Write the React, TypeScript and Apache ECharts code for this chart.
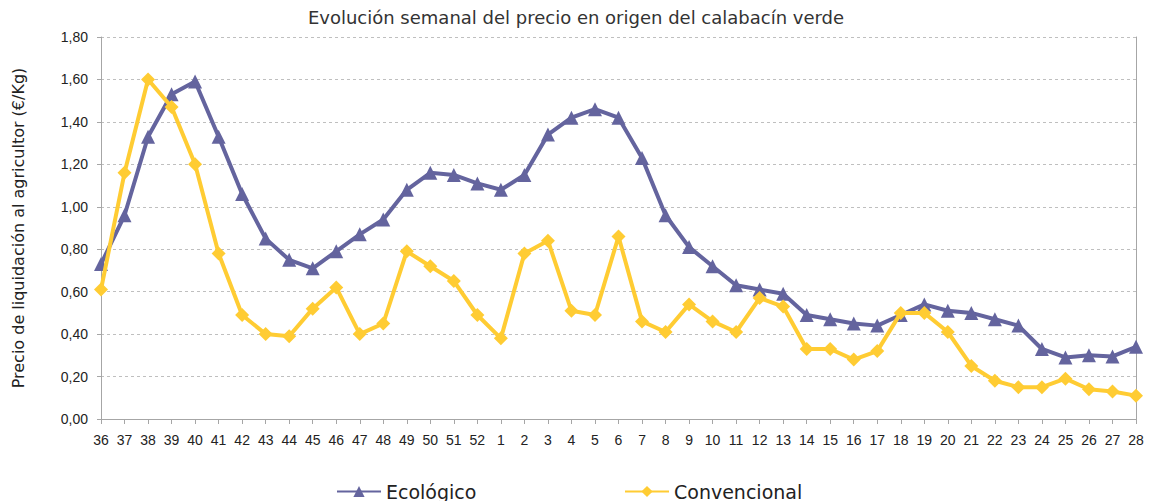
import React, { useEffect, useRef } from "react";
import * as echarts from "echarts";

const weeks: string[] = [
  "36", "37", "38", "39", "40", "41", "42", "43", "44", "45", "46", "47", "48", "49", "50", "51", "52",
  "1", "2", "3", "4", "5", "6", "7", "8", "9", "10", "11", "12", "13", "14", "15", "16", "17", "18",
  "19", "20", "21", "22", "23", "24", "25", "26", "27", "28",
];

const ecologico: number[] = [
  0.73, 0.96, 1.33, 1.53, 1.59, 1.33, 1.06, 0.85, 0.75, 0.71, 0.79, 0.87, 0.94, 1.08, 1.16, 1.15, 1.11,
  1.08, 1.15, 1.34, 1.42, 1.46, 1.42, 1.23, 0.96, 0.81, 0.72, 0.63, 0.61, 0.59, 0.49, 0.47, 0.45, 0.44, 0.49,
  0.54, 0.51, 0.50, 0.47, 0.44, 0.33, 0.29, 0.30, 0.295, 0.34,
];

const convencional: number[] = [
  0.61, 1.16, 1.60, 1.47, 1.20, 0.78, 0.49, 0.40, 0.39, 0.52, 0.62, 0.40, 0.45, 0.79, 0.72, 0.65, 0.49,
  0.38, 0.78, 0.84, 0.51, 0.49, 0.86, 0.46, 0.41, 0.54, 0.46, 0.41, 0.57, 0.53, 0.33, 0.33, 0.28, 0.32, 0.50,
  0.50, 0.41, 0.25, 0.18, 0.15, 0.15, 0.19, 0.14, 0.13, 0.11,
];

const PURPLE = "#64649E";
const GOLD = "#FFCC33";

export default function App() {
  const ref = useRef<HTMLDivElement>(null);
  useEffect(() => {
    if (!ref.current) return;
    const chart = echarts.init(ref.current, undefined, { renderer: "svg" });
    chart.setOption({
      animation: false,
      backgroundColor: "#ffffff",
      title: {
        text: "Evolución semanal del precio en origen del calabacín verde",
        left: "center",
        top: 3,
        textStyle: { fontFamily: "DejaVu Sans", fontSize: 18, fontWeight: "normal", color: "#333333" },
      },
      legend: [
        {
          data: ["Ecológico"],
          left: 331,
          top: 477,
          itemWidth: 44,
          itemHeight: 14,
          textStyle: { fontFamily: "DejaVu Sans", fontSize: 19, color: "#222222" },
        },
        {
          data: ["Convencional"],
          left: 619,
          top: 477,
          itemWidth: 44,
          itemHeight: 14,
          textStyle: { fontFamily: "DejaVu Sans", fontSize: 19, color: "#222222" },
        },
      ],
      grid: { left: 101, right: 16, top: 37, bottom: 82, containLabel: false },
      xAxis: {
        type: "category",
        data: weeks,
        boundaryGap: false,
        axisLine: { lineStyle: { color: "#A6A6A6", width: 1 } },
        axisTick: { alignWithLabel: true, length: 5, lineStyle: { color: "#A6A6A6" } },
        axisLabel: {
          interval: 0,
          margin: 14,
          fontFamily: "Liberation Sans",
          fontSize: 14,
          color: "#222222",
        },
        splitLine: { show: false },
      },
      yAxis: [
        {
          type: "value",
          min: 0,
          max: 1.8,
          interval: 0.2,
          name: "Precio de liquidación al agricultor (€/Kg)",
          nameLocation: "middle",
          nameGap: 75,
          nameTextStyle: { fontFamily: "DejaVu Sans", fontSize: 16, color: "#222222" },
          axisLine: { show: true, lineStyle: { color: "#A6A6A6", width: 1 } },
          axisTick: { show: true, length: 4, lineStyle: { color: "#A6A6A6" } },
          axisLabel: {
            margin: 13,
            fontFamily: "Liberation Sans",
            fontSize: 14,
            color: "#222222",
            formatter: (v: number) => v.toFixed(2).replace(".", ","),
          },
          splitLine: { show: true, lineStyle: { color: "#BFBFBF", type: [3, 3], width: 1 } },
        },
        {
          type: "value",
          min: 0,
          max: 1.8,
          interval: 0.2,
          position: "right",
          axisLine: { show: true, lineStyle: { color: "#A6A6A6", width: 1 } },
          axisTick: { show: false },
          axisLabel: { show: false },
          splitLine: { show: false },
        },
      ],
      series: [
        {
          name: "Ecológico",
          type: "line",
          data: ecologico,
          yAxisIndex: 0,
          symbol: "triangle",
          symbolSize: 14,
          lineStyle: { color: PURPLE, width: 4 },
          itemStyle: { color: PURPLE },
          z: 2,
        },
        {
          name: "Convencional",
          type: "line",
          data: convencional,
          yAxisIndex: 0,
          symbol: "diamond",
          symbolSize: 14,
          lineStyle: { color: GOLD, width: 4 },
          itemStyle: { color: GOLD },
          z: 3,
        },
      ],
    });
    return () => chart.dispose();
  }, []);
  return <div ref={ref} style={{ width: 1152, height: 501, position: "absolute", left: 0, top: 0 }} />;
}
